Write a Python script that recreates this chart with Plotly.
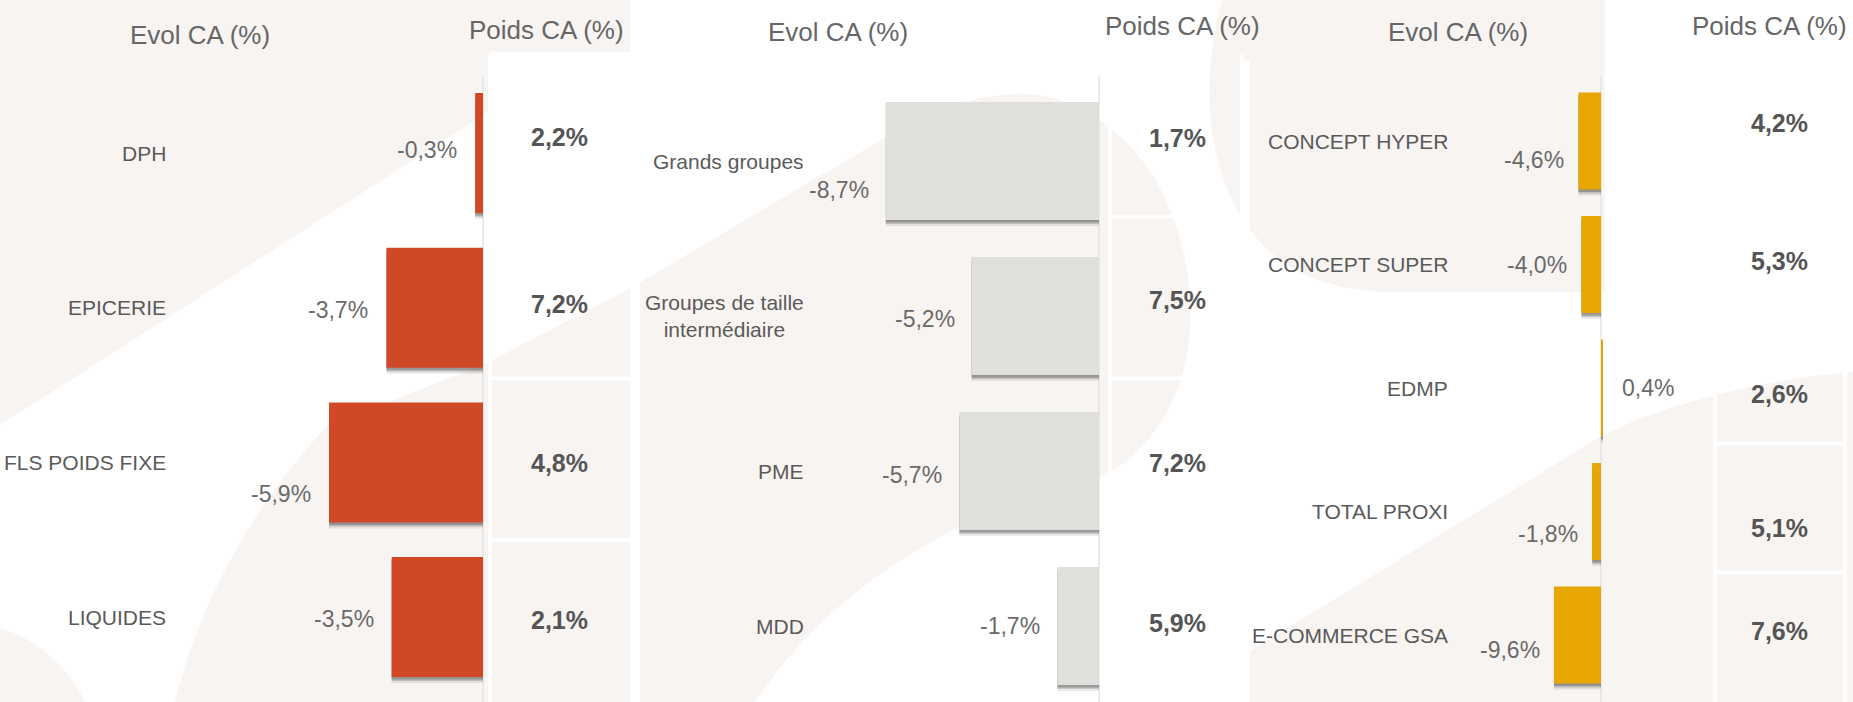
import textwrap
import plotly.graph_objects as go

# ---------------- DATA ----------------
evol_header = "Evol CA (%)"
poids_header = "Poids CA (%)"

p1_categories = ["DPH", "EPICERIE", "FLS POIDS FIXE", "LIQUIDES"]
p1_evol = [-0.3, -3.7, -5.9, -3.5]
p1_poids = [2.2, 7.2, 4.8, 2.1]

p2_categories = ["Grands groupes", "Groupes de taille intermédiaire", "PME", "MDD"]
p2_evol = [-8.7, -5.2, -5.7, -1.7]
p2_poids = [1.7, 7.5, 7.2, 5.9]

p3_categories = ["CONCEPT HYPER", "CONCEPT SUPER", "EDMP", "TOTAL PROXI", "E-COMMERCE GSA"]
p3_evol = [-4.6, -4.0, 0.4, -1.8, -9.6]
p3_poids = [4.2, 5.3, 2.6, 5.1, 7.6]

# ---------------- STYLE / LAYOUT ----------------
W, H = 1853, 702
FONT = "Liberation Sans, Arial, Helvetica, sans-serif"
BEIGE = "#F8F4F2"
PLOT_TOP, PLOT_BOTTOM = 60, 702
TABLE_TOP = 55


def fx(px):
    return px / W


def fy(py):
    return 1 - py / H


def svg_path(cmds):
    out = []
    for op, *nums in cmds:
        pts = [f"{fx(nums[j]):.5f},{fy(nums[j + 1]):.5f}" for j in range(0, len(nums), 2)]
        out.append((op + " " + " ".join(pts)).strip())
    return " ".join(out)


def pct(v):
    return f"{v:.1f}".replace(".", ",") + "%"


PANELS = [
    dict(cats=p1_categories, evol=p1_evol, poids=p1_poids, color="#D14826",
         zero_px=483, px_per_unit=26.1, first_row_px=153, row_px=154.7, bar_frac=0.776,
         x_dom_px=(140, 497), label_right_px=168, label_gap=16,
         evol_title_px=(200, 35), poids_title_px=(546, 30),
         cell_px=(490, 632), poids_x_px=559,
         evol_dy=[-3, 2, 32, 2], poids_dy=[1, 6, 4, -1]),
    dict(cats=p2_categories, evol=p2_evol, poids=p2_poids, color="#DFDFDC",
         zero_px=1099, px_per_unit=24.5, first_row_px=161, row_px=155, bar_frac=0.76,
         x_dom_px=(820, 1106), label_right_px=806, label_gap=15,
         evol_title_px=(838, 32), poids_title_px=(1182, 26),
         cell_px=(1110, 1242), poids_x_px=1177,
         evol_dy=[29, 3, 4, 0], poids_dy=[2, 2, 4, 2]),
    dict(cats=p3_categories, evol=p3_evol, poids=p3_poids, color="#E8A600",
         zero_px=1601, px_per_unit=4.9, first_row_px=141, row_px=123.5, bar_frac=0.785,
         x_dom_px=(1500, 1612), label_right_px=1450, label_gap=12,
         evol_title_px=(1458, 32), poids_title_px=(1769, 26),
         cell_px=(1715, 1845), poids_x_px=1779,
         evol_dy=[19, 0, 0, 22, 15], poids_dy=[3, 12, 15, 20, -6]),
]

fig = go.Figure()
annotations = []
shapes = []

# decorative background shapes
bg_paths = [
    [("M", 0, 0), ("L", 630, 0), ("L", 630, 52), ("L", 490, 52), ("L", 488, 112),
     ("L", 102, 360), ("L", 0, 425), ("Z",)],
    [("M", 175, 702), ("C", 195, 620, 240, 520, 326, 427), ("L", 483, 365), ("L", 627, 290),
     ("L", 881, 140), ("C", 950, 100, 1000, 90, 1040, 95), ("C", 1150, 120, 1195, 230, 1190, 330),
     ("C", 1185, 400, 1150, 450, 1106, 475), ("C", 1000, 500, 850, 560, 755, 702), ("Z",)],
    [("M", 1222, 0), ("C", 1200, 80, 1205, 170, 1250, 230), ("C", 1285, 275, 1330, 292, 1400, 292),
     ("L", 1605, 292), ("L", 1605, 0), ("Z",)],
    [("M", 1240, 657), ("L", 1600, 437), ("C", 1650, 410, 1750, 380, 1853, 372),
     ("L", 1853, 702), ("L", 1240, 702), ("Z",)],
    [("M", 0, 628), ("C", 40, 640, 70, 670, 85, 702), ("L", 0, 702), ("Z",)],
]
for p in bg_paths:
    shapes.append(dict(type="path", path=svg_path(p), xref="paper", yref="paper",
                       fillcolor=BEIGE, line=dict(width=0), layer="below"))

# white separators between panels
for x0, x1, y0 in [(630, 640, 78), (1242, 1250, 60)]:
    shapes.append(dict(type="rect", xref="paper", yref="paper", x0=fx(x0), x1=fx(x1),
                       y0=fy(702), y1=fy(y0), fillcolor="white", line=dict(width=0), layer="below"))

for i, P in enumerate(PANELS, start=1):
    n = len(P["cats"])
    idx = list(range(n))
    xa = f"x{i}"
    ya = f"y{i}"
    xkey = "xaxis" if i == 1 else f"xaxis{i}"
    ykey = "yaxis" if i == 1 else f"yaxis{i}"
    x0p, x1p = P["x_dom_px"]
    fig.layout[xkey] = dict(domain=[fx(x0p), fx(x1p)],
                            range=[(x0p - P["zero_px"]) / P["px_per_unit"],
                                   (x1p - P["zero_px"]) / P["px_per_unit"]],
                            visible=False, fixedrange=True, anchor=ya)
    fig.layout[ykey] = dict(domain=[fy(PLOT_BOTTOM), fy(PLOT_TOP)],
                            range=[(PLOT_BOTTOM - P["first_row_px"]) / P["row_px"],
                                   (PLOT_TOP - P["first_row_px"]) / P["row_px"]],
                            visible=False, fixedrange=True, anchor=xa)

    # shadows
    for off, alpha in [(6, 0.10), (4, 0.18), (2.5, 0.28)]:
        fig.add_trace(go.Bar(x=P["evol"], y=[k + off / P["row_px"] for k in idx], orientation="h",
                             width=P["bar_frac"], marker=dict(color=f"rgba(40,40,40,{alpha})", line=dict(width=0)),
                             xaxis=xa, yaxis=ya, hoverinfo="skip", showlegend=False))
    fig.add_trace(go.Bar(x=P["evol"], y=idx, orientation="h", width=P["bar_frac"],
                         marker=dict(color=P["color"], line=dict(width=0)),
                         xaxis=xa, yaxis=ya, showlegend=False, name=evol_header))

    # zero line
    shapes.append(dict(type="line", xref=xa, yref="paper", x0=0, x1=0,
                       y0=fy(702), y1=fy(76), line=dict(color="#E4E4E4", width=1.5), layer="below"))

    # table cell separators (white)
    c0, c1 = P["cell_px"]
    rh = (702 - TABLE_TOP) / n
    for cx in (c0, c1):
        shapes.append(dict(type="line", xref="paper", yref="paper", x0=fx(cx), x1=fx(cx),
                           y0=fy(702), y1=fy(TABLE_TOP), line=dict(color="white", width=4), layer="below"))
    for k in range(1, n):
        yy = TABLE_TOP + k * rh
        shapes.append(dict(type="line", xref="paper", yref="paper", x0=fx(c0), x1=fx(c1),
                           y0=fy(yy), y1=fy(yy), line=dict(color="white", width=4), layer="below"))

    # headers
    ex, ey = P["evol_title_px"]
    px_, py_ = P["poids_title_px"]
    annotations.append(dict(text=evol_header, x=fx(ex), y=fy(ey), xref="paper", yref="paper",
                            xanchor="center", yanchor="middle", showarrow=False,
                            font=dict(family=FONT, size=26, color="#666666")))
    annotations.append(dict(text=poids_header, x=fx(px_), y=fy(py_), xref="paper", yref="paper",
                            xanchor="center", yanchor="middle", showarrow=False,
                            font=dict(family=FONT, size=26, color="#666666")))

    for k in idx:
        cat = "<br>".join(textwrap.wrap(P["cats"][k], 18))
        annotations.append(dict(text=cat, x=fx(P["label_right_px"]), y=k, xref="paper", yref=ya,
                                xanchor="right", yanchor="middle", align="center", showarrow=False,
                                font=dict(family=FONT, size=21, color="#5A5A5A")))
        v = P["evol"][k]
        neg = v < 0
        annotations.append(dict(text=pct(v), x=v, y=k, xref=xa, yref=ya,
                                xanchor="right" if neg else "left",
                                xshift=-P["label_gap"] if neg else P["label_gap"] + 5,
                                yshift=-P["evol_dy"][k], yanchor="middle", showarrow=False,
                                font=dict(family=FONT, size=23, color="#6A6A6A")))
        yy = TABLE_TOP + (k + 0.5) * rh + P["poids_dy"][k]
        annotations.append(dict(text=f"<b>{pct(P['poids'][k])}</b>", x=fx(P["poids_x_px"]), y=fy(yy),
                                xref="paper", yref="paper", xanchor="center", yanchor="middle",
                                showarrow=False, font=dict(family=FONT, size=25, color="#555555")))

fig.update_layout(width=W, height=H, margin=dict(l=0, r=0, t=0, b=0),
                  paper_bgcolor="white", plot_bgcolor="rgba(0,0,0,0)",
                  barmode="overlay", showlegend=False,
                  annotations=annotations, shapes=shapes,
                  font=dict(family=FONT))

fig.write_html("out.html", config={"displayModeBar": False, "staticPlot": True},
               post_script="document.body.style.margin='0';document.body.style.padding='0';"
                           "document.documentElement.style.overflow='hidden';")
